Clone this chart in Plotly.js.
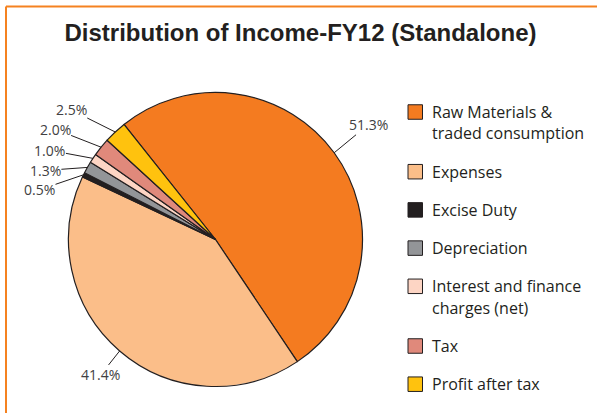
<!DOCTYPE html>
<html>
<head>
<meta charset="utf-8">
<script src="https://cdn.plot.ly/plotly-3.0.1.min.js"></script>
<style>html,body{margin:0;padding:0;background:#fff;}#chart{width:597px;height:413px;}</style>
</head>
<body>
<div id="chart"></div>
<script>
// ---- data ----
var categories = ['Raw Materials &<br>traded consumption', 'Expenses', 'Excise Duty', 'Depreciation',
                  'Interest and finance<br>charges (net)', 'Tax', 'Profit after tax'];
var shares = [51.3, 41.4, 0.5, 1.3, 1.0, 2.0, 2.5];
var sliceColors = ['#F47B20', '#FBBE89', '#231F20', '#939598', '#FDD5C4', '#E0897B', '#FFC20E'];

// ---- layout constants (pixels) ----
var W = 597, H = 413;
var CX = 215.5, CY = 239.5, R = 147;
var ROT = -38.5;
// label offsets (text centre relative to slice mid-point on the rim)
var labelOffsets = [[34, -28], [-19, 24], [-44, 15], [-42, 3], [-43, -8], [-46, -18], [-44, -22]];

function px(x) { return x / W; }
function py(y) { return 1 - y / H; }

var total = shares.reduce(function (a, b) { return a + b; }, 0);
var annotations = [];
var shapes = [];

// percentage labels with leader lines, placed from the slice angles
var acc = 0;
for (var i = 0; i < shares.length; i++) {
  var mid = ROT + (acc + shares[i] / 2) / total * 360;
  acc += shares[i];
  var a = mid * Math.PI / 180;
  var rx = CX + R * Math.sin(a);
  var ry = CY - R * Math.cos(a);
  annotations.push({
    xref: 'paper', yref: 'paper', x: px(rx), y: py(ry),
    ax: labelOffsets[i][0], ay: labelOffsets[i][1],
    text: shares[i].toFixed(1) + '%', showarrow: true, arrowhead: 0,
    arrowwidth: 1, arrowcolor: '#231F20', standoff: 0, borderpad: 0,
    font: {family: 'Open Sans, sans-serif', size: 14, color: '#414042'}
  });
}

// manual legend
var lgY = 112, lineGap = 21.5, itemGap = 38.2;
var sqX0 = 408, sqSize = 14.5, txtX = 430;
for (var j = 0; j < categories.length; j++) {
  var lines = categories[j].split('<br>');
  shapes.push({
    type: 'rect', xref: 'paper', yref: 'paper',
    x0: px(sqX0), x1: px(sqX0 + sqSize), y0: py(lgY - sqSize / 2), y1: py(lgY + sqSize / 2),
    fillcolor: sliceColors[j], line: {color: '#231F20', width: 1}
  });
  for (var k = 0; k < lines.length; k++) {
    annotations.push({
      xref: 'paper', yref: 'paper', x: px(txtX), y: py(lgY + k * lineGap),
      xanchor: 'left', yanchor: 'middle', showarrow: false, text: lines[k],
      font: {family: 'Open Sans, sans-serif', size: 16, color: '#231F20'}
    });
  }
  lgY += (lines.length - 1) * lineGap + itemGap;
}

// orange frame
shapes.push({type: 'line', xref: 'paper', yref: 'paper', x0: px(6), x1: px(6), y0: 0, y1: py(6.5),
             line: {color: '#F58220', width: 2}});
shapes.push({type: 'line', xref: 'paper', yref: 'paper', x0: px(6), x1: 1, y0: py(6.5), y1: py(6.5),
             line: {color: '#F58220', width: 2}});

var trace = {
  type: 'pie',
  labels: categories,
  values: shares,
  sort: false,
  direction: 'clockwise',
  rotation: ROT,
  textinfo: 'none',
  hoverinfo: 'label+percent',
  showlegend: false,
  marker: {colors: sliceColors, line: {color: '#231F20', width: 1.2}},
  domain: {x: [px(CX - R), px(CX + R)], y: [py(CY + R), py(CY - R)]}
};

var layout = {
  width: W, height: H,
  margin: {l: 0, r: 0, t: 0, b: 0},
  paper_bgcolor: '#ffffff',
  title: {
    text: 'Distribution of Income-FY12 (Standalone)',
    font: {family: 'Liberation Sans, Arial, sans-serif', size: 24, color: '#231F20', weight: 'bold'},
    x: 300.5 / W, xanchor: 'center', xref: 'paper',
    y: 1 - 33 / H, yanchor: 'middle', yref: 'container'
  },
  showlegend: false,
  annotations: annotations,
  shapes: shapes
};

Plotly.newPlot('chart', [trace], layout, {displayModeBar: false, staticPlot: true});
</script>
</body>
</html>
